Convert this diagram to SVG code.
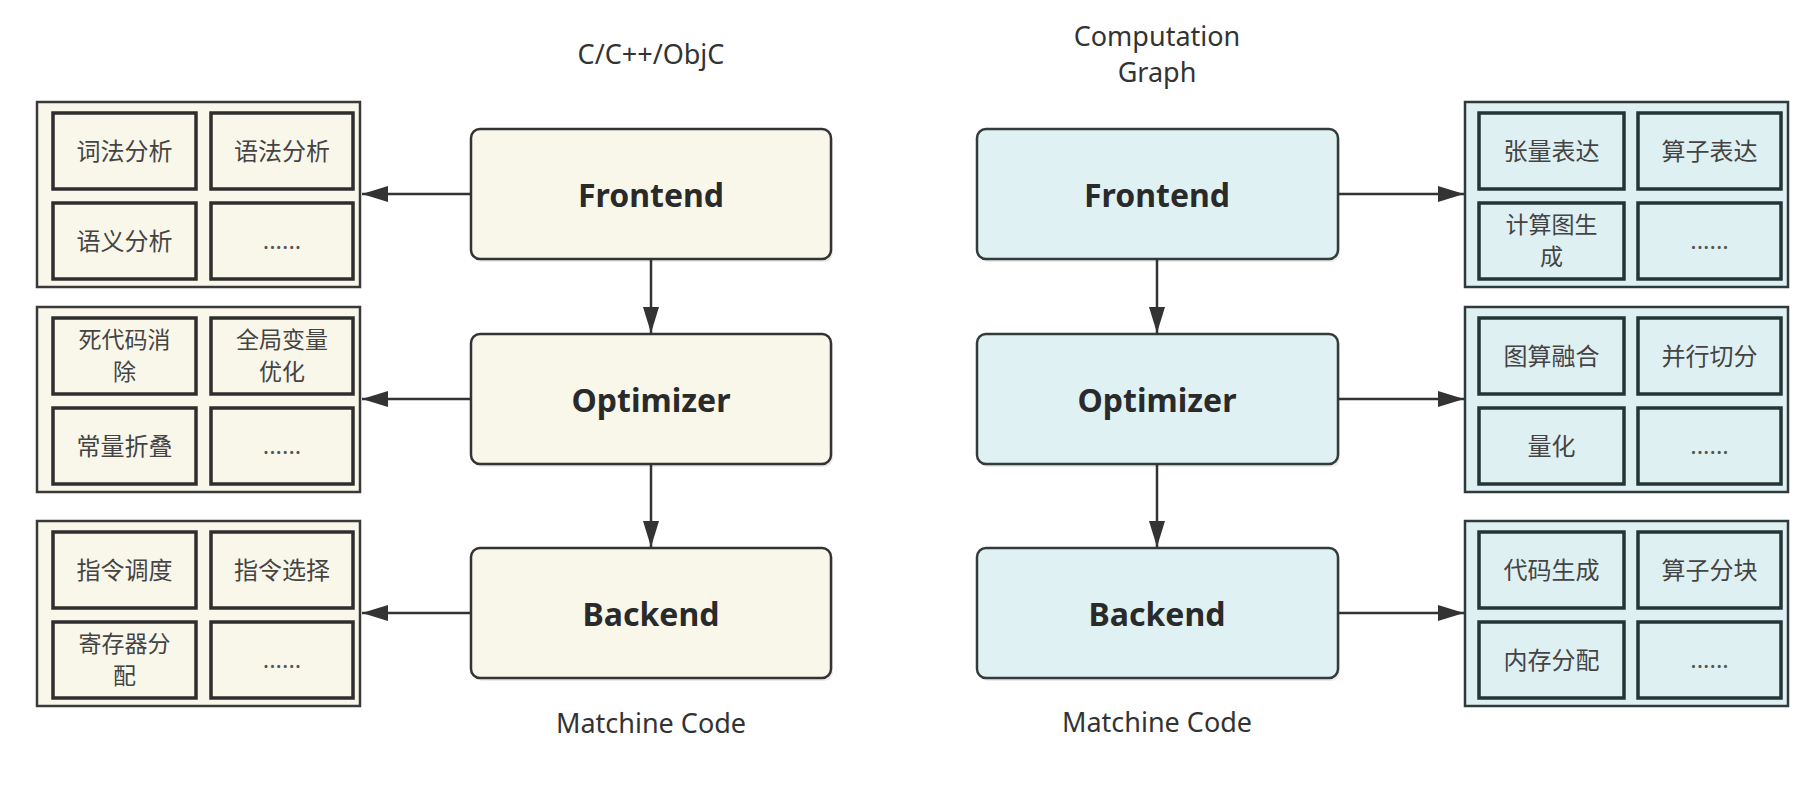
<svg xmlns="http://www.w3.org/2000/svg" width="1809" height="799" viewBox="0 0 1809 799">
<defs>
<style>
.bg{fill:#ffffff}
.outerL{fill:#f9f7ea;stroke:#3a3a3a;stroke-width:2.5}
.outerR{fill:#dff0f2;stroke:#2f3b3b;stroke-width:2.5}
.cellL{fill:#f9f7ea;stroke:#2e2e2e;stroke-width:3.5}
.cellR{fill:#dff0f2;stroke:#253535;stroke-width:3.5}
.mainL{fill:#f9f7ea;stroke:#333333;stroke-width:2.5}
.mainR{fill:#dff1f3;stroke:#333b3b;stroke-width:2.5}
.shadow{fill:#000000;opacity:0.08}
.cell-t{font-family:"Noto Sans CJK SC","Noto Sans",sans-serif;font-size:24px;fill:#444444;text-anchor:middle}
.cell-w{font-family:"Noto Sans CJK SC","Noto Sans",sans-serif;font-size:23px;fill:#444444;text-anchor:middle}
.dots{font-family:"Noto Sans","Noto Sans CJK SC",sans-serif;font-size:24px;fill:#555555;text-anchor:middle}
.main-t{font-family:"Noto Sans","Open Sans",sans-serif;font-size:32px;font-weight:bold;fill:#2a2a2a;text-anchor:middle}
.cap{font-family:"Noto Sans","Open Sans",sans-serif;font-size:27px;fill:#333333;text-anchor:middle}
.conn{stroke:#333333;stroke-width:2.5;fill:none}
</style>
<marker id="arr" viewBox="0 0 26 16" refX="26" refY="8" markerWidth="26" markerHeight="16" markerUnits="userSpaceOnUse" orient="auto">
<path d="M0,0 L26,8 L0,16 Z" fill="#333333"/>
</marker>
</defs>
<rect class="bg" x="0" y="0" width="1809" height="799"/>

<text class="cap" x="651" y="64">C/C++/ObjC</text>
<text class="cap" x="1157" y="46">Computation</text>
<text class="cap" x="1157" y="82">Graph</text>
<text class="cap" x="651" y="733">Matchine Code</text>
<text class="cap" x="1157" y="732">Matchine Code</text>

<!-- Left main boxes -->
<g id="frontend-l">
<rect class="shadow" x="473" y="132" width="360" height="130" rx="9"/>
<rect class="mainL" x="471" y="129" width="360" height="130" rx="9"/>
<text class="main-t" x="651" y="207">Frontend</text>
</g>
<g id="optimizer-l">
<rect class="shadow" x="473" y="337" width="360" height="130" rx="9"/>
<rect class="mainL" x="471" y="334" width="360" height="130" rx="9"/>
<text class="main-t" x="651" y="412">Optimizer</text>
</g>
<g id="backend-l">
<rect class="shadow" x="473" y="551" width="360" height="130" rx="9"/>
<rect class="mainL" x="471" y="548" width="360" height="130" rx="9"/>
<text class="main-t" x="651" y="626">Backend</text>
</g>

<!-- Right main boxes -->
<g id="frontend-r">
<rect class="shadow" x="979" y="132" width="361" height="130" rx="9"/>
<rect class="mainR" x="977" y="129" width="361" height="130" rx="9"/>
<text class="main-t" x="1157" y="207">Frontend</text>
</g>
<g id="optimizer-r">
<rect class="shadow" x="979" y="337" width="361" height="130" rx="9"/>
<rect class="mainR" x="977" y="334" width="361" height="130" rx="9"/>
<text class="main-t" x="1157" y="412">Optimizer</text>
</g>
<g id="backend-r">
<rect class="shadow" x="979" y="551" width="361" height="130" rx="9"/>
<rect class="mainR" x="977" y="548" width="361" height="130" rx="9"/>
<text class="main-t" x="1157" y="626">Backend</text>
</g>

<!-- Left groups -->
<g id="front-tasks-l">
<rect class="outerL" x="37" y="102" width="323" height="185"/>
<rect class="cellL" x="53" y="113" width="143" height="76"/>
<rect class="cellL" x="211" y="113" width="142" height="76"/>
<rect class="cellL" x="53" y="203" width="143" height="76"/>
<rect class="cellL" x="211" y="203" width="142" height="76"/>
<text class="cell-t" x="124.5" y="160">词法分析</text>
<text class="cell-t" x="282" y="160">语法分析</text>
<text class="cell-t" x="124.5" y="250">语义分析</text>
<text class="dots" x="282" y="249">......</text>
</g>
<g id="opt-tasks-l">
<rect class="outerL" x="37" y="307" width="323" height="185"/>
<rect class="cellL" x="53" y="318" width="143" height="76"/>
<rect class="cellL" x="211" y="318" width="142" height="76"/>
<rect class="cellL" x="53" y="408" width="143" height="76"/>
<rect class="cellL" x="211" y="408" width="142" height="76"/>
<text class="cell-w" x="124.5" y="348">死代码消</text>
<text class="cell-w" x="124.5" y="380">除</text>
<text class="cell-w" x="282" y="348">全局变量</text>
<text class="cell-w" x="282" y="380">优化</text>
<text class="cell-t" x="124.5" y="455">常量折叠</text>
<text class="dots" x="282" y="454">......</text>
</g>
<g id="back-tasks-l">
<rect class="outerL" x="37" y="521" width="323" height="185"/>
<rect class="cellL" x="53" y="532" width="143" height="76"/>
<rect class="cellL" x="211" y="532" width="142" height="76"/>
<rect class="cellL" x="53" y="622" width="143" height="76"/>
<rect class="cellL" x="211" y="622" width="142" height="76"/>
<text class="cell-t" x="124.5" y="579">指令调度</text>
<text class="cell-t" x="282" y="579">指令选择</text>
<text class="cell-w" x="124.5" y="652">寄存器分</text>
<text class="cell-w" x="124.5" y="684">配</text>
<text class="dots" x="282" y="668">......</text>
</g>

<!-- Right groups -->
<g id="front-tasks-r">
<rect class="outerR" x="1465" y="102" width="323" height="185"/>
<rect class="cellR" x="1479" y="113" width="145" height="76"/>
<rect class="cellR" x="1638" y="113" width="143" height="76"/>
<rect class="cellR" x="1479" y="203" width="145" height="76"/>
<rect class="cellR" x="1638" y="203" width="143" height="76"/>
<text class="cell-t" x="1551.5" y="160">张量表达</text>
<text class="cell-t" x="1709.5" y="160">算子表达</text>
<text class="cell-w" x="1551.5" y="233">计算图生</text>
<text class="cell-w" x="1551.5" y="265">成</text>
<text class="dots" x="1709.5" y="249">......</text>
</g>
<g id="opt-tasks-r">
<rect class="outerR" x="1465" y="307" width="323" height="185"/>
<rect class="cellR" x="1479" y="318" width="145" height="76"/>
<rect class="cellR" x="1638" y="318" width="143" height="76"/>
<rect class="cellR" x="1479" y="408" width="145" height="76"/>
<rect class="cellR" x="1638" y="408" width="143" height="76"/>
<text class="cell-t" x="1551.5" y="365">图算融合</text>
<text class="cell-t" x="1709.5" y="365">并行切分</text>
<text class="cell-t" x="1551.5" y="455">量化</text>
<text class="dots" x="1709.5" y="454">......</text>
</g>
<g id="back-tasks-r">
<rect class="outerR" x="1465" y="521" width="323" height="185"/>
<rect class="cellR" x="1479" y="532" width="145" height="76"/>
<rect class="cellR" x="1638" y="532" width="143" height="76"/>
<rect class="cellR" x="1479" y="622" width="145" height="76"/>
<rect class="cellR" x="1638" y="622" width="143" height="76"/>
<text class="cell-t" x="1551.5" y="579">代码生成</text>
<text class="cell-t" x="1709.5" y="579">算子分块</text>
<text class="cell-t" x="1551.5" y="669">内存分配</text>
<text class="dots" x="1709.5" y="668">......</text>
</g>

<g id="connectors">
<line class="conn" x1="471" y1="194" x2="362" y2="194" marker-end="url(#arr)"/>
<line class="conn" x1="471" y1="399" x2="362" y2="399" marker-end="url(#arr)"/>
<line class="conn" x1="471" y1="613" x2="362" y2="613" marker-end="url(#arr)"/>
<line class="conn" x1="651" y1="259" x2="651" y2="333" marker-end="url(#arr)"/>
<line class="conn" x1="651" y1="464" x2="651" y2="547" marker-end="url(#arr)"/>
<line class="conn" x1="1338" y1="194" x2="1464" y2="194" marker-end="url(#arr)"/>
<line class="conn" x1="1338" y1="399" x2="1464" y2="399" marker-end="url(#arr)"/>
<line class="conn" x1="1338" y1="613" x2="1464" y2="613" marker-end="url(#arr)"/>
<line class="conn" x1="1157" y1="259" x2="1157" y2="333" marker-end="url(#arr)"/>
<line class="conn" x1="1157" y1="464" x2="1157" y2="547" marker-end="url(#arr)"/>
</g>
</svg>
